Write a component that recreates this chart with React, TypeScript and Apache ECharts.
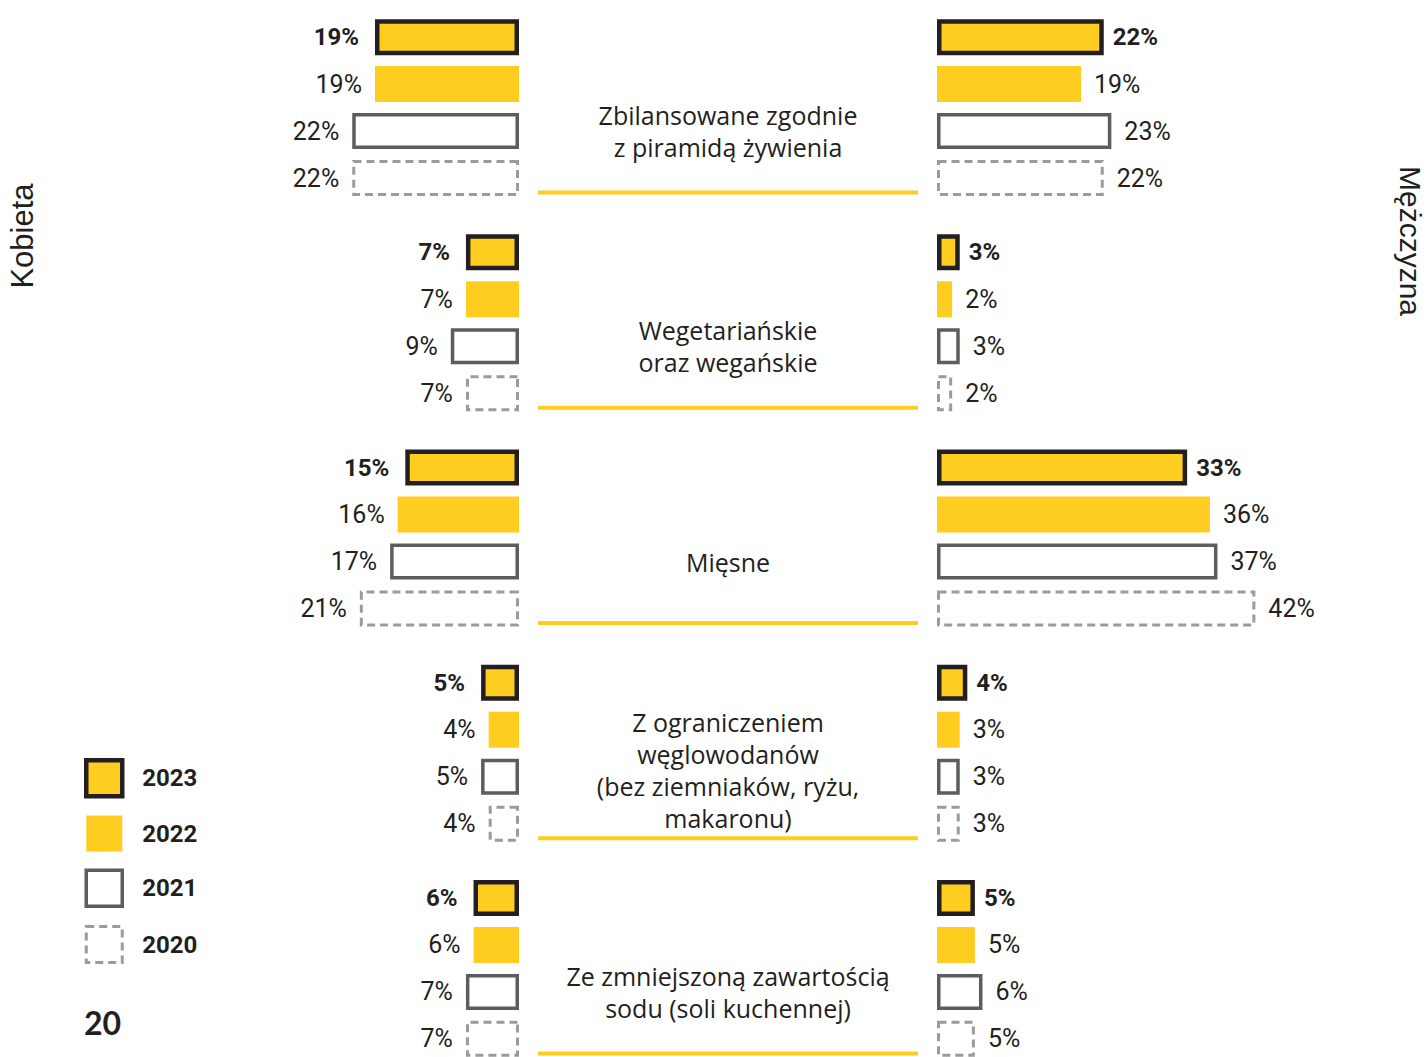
import React, { useEffect, useRef } from "react";
import * as echarts from "echarts";

const categories = [
  "Zbilansowane zgodnie\nz piramidą żywienia",
  "Wegetariańskie\noraz wegańskie",
  "Mięsne",
  "Z ograniczeniem\nwęglowodanów\n(bez ziemniaków, ryżu,\nmakaronu)",
  "Ze zmniejszoną zawartością\nsodu (soli kuchennej)",
];
const years = ["2023", "2022", "2021", "2020"];
const kobieta2023 = [19, 7, 15, 5, 6];
const kobieta2022 = [19, 7, 16, 4, 6];
const kobieta2021 = [22, 9, 17, 5, 7];
const kobieta2020 = [22, 7, 21, 4, 7];
const mezczyzna2023 = [22, 3, 33, 4, 5];
const mezczyzna2022 = [19, 2, 36, 3, 5];
const mezczyzna2021 = [23, 3, 37, 3, 6];
const mezczyzna2020 = [22, 2, 42, 3, 5];
const sideTitles = ["Kobieta", "Mężczyzna"];
const pageNumber = "20";

const YELLOW = "#FFCD1F";
const DARK = "#231F20";
const GRAY = "#5B5E5F";
const LIGHTGRAY = "#9B9B9B";
const FONT = "Roboto";

const yearStyles: any[] = [
  { color: YELLOW, borderColor: DARK, borderWidth: 4.5 },
  { color: YELLOW, borderWidth: 0 },
  { color: "#FFFFFF", borderColor: GRAY, borderWidth: 3.5 },
  { color: "#FFFFFF", borderColor: LIGHTGRAY, borderWidth: 3, borderType: [8, 5] },
];

export default function App() {
  const ref = useRef<HTMLDivElement>(null);
  useEffect(() => {
    document.body.style.margin = "0";
    document.body.style.overflow = "hidden";
    document.documentElement.style.overflow = "hidden";
    const chart = echarts.init(ref.current!, null, { renderer: "svg" });
    const kData = [kobieta2023, kobieta2022, kobieta2021, kobieta2020];
    const mData = [mezczyzna2023, mezczyzna2022, mezczyzna2021, mezczyzna2020];
    const gridTop = 0;
    const gridHeight = 1076;
    const makeSeries = (side: number, data: number[][]) =>
      years.map((y, i) => ({
        type: "bar",
        name: y,
        xAxisIndex: side,
        yAxisIndex: side,
        data: data[i],
        barWidth: 36,
        barGap: "30.5%",
        itemStyle: yearStyles[i],
        label: {
          show: true,
          position: side === 0 ? "left" : "right",
          distance: i === 0 ? (side === 0 ? 16 : 9) : 13,
          formatter: "{c}%",
          fontFamily: FONT,
          fontSize: i === 0 ? 24 : 25,
          fontWeight: i === 0 ? "bold" : "normal",
          color: DARK,
        },
      }));
    const catAxis = (gi: number) => ({
      type: "category",
      gridIndex: gi,
      data: categories,
      inverse: true,
      show: false,
    });
    chart.setOption({
      animation: false,
      grid: [
        { left: 140, width: 379, top: gridTop, height: gridHeight },
        { left: 937, width: 379, top: gridTop, height: gridHeight },
        { left: 538, width: 380, top: gridTop, height: gridHeight },
      ],
      xAxis: [
        { type: "value", gridIndex: 0, min: 0, max: 50, inverse: true, show: false },
        { type: "value", gridIndex: 1, min: 0, max: 50, show: false },
        { type: "value", gridIndex: 2, min: 0, max: 1, show: false },
      ],
      yAxis: [catAxis(0), catAxis(1), catAxis(2)],
      legend: {
        orient: "vertical",
        left: 79,
        top: 753,
        itemWidth: 36,
        itemHeight: 36,
        itemGap: 17,
        selectedMode: false,
        textStyle: {
          fontFamily: FONT,
          fontSize: 24,
          fontWeight: "bold",
          color: DARK,
          padding: [0, 0, 0, 15],
        },
        data: years.map((y, i) => ({
          name: y,
          icon: "rect",
          itemStyle: { ...yearStyles[i], borderWidth: yearStyles[i].borderWidth || 0 },
        })),
      },
      graphic: [
        {
          type: "text",
          x: 22,
          y: 236,
          rotation: Math.PI / 2,
          style: {
            text: sideTitles[0],
            font: "31px 'Liberation Sans'",
            fill: DARK,
            align: "center",
            verticalAlign: "middle",
          },
        },
        {
          type: "text",
          x: 1410,
          y: 241,
          rotation: -Math.PI / 2,
          style: {
            text: sideTitles[1],
            font: "30px 'Liberation Sans'",
            fill: DARK,
            align: "center",
            verticalAlign: "middle",
          },
        },
        {
          type: "text",
          x: 84,
          y: 1022,
          style: {
            text: pageNumber,
            font: "bold 32px Lato",
            fill: DARK,
            align: "left",
            verticalAlign: "middle",
          },
        },
      ],
      series: [
        ...makeSeries(0, kData),
        ...makeSeries(1, mData),
        {
          type: "custom",
          xAxisIndex: 2,
          yAxisIndex: 2,
          data: categories.map((_, i) => [0, i]),
          renderItem: (params: any, api: any) => {
            const idx = api.value(1);
            const p0 = api.coord([0, idx]);
            const p1 = api.coord([1, idx]);
            const band = api.size([0, 1])[1];
            const cx = (p0[0] + p1[0]) / 2;
            const text = categories[params.dataIndex];
            const nLines = text.split("\n").length;
            const lineY = p0[1] + band * 0.395;
            const textY = Math.min(p0[1] + band * 0.11, lineY - nLines * 16 - 4);
            return {
              type: "group",
              children: [
                {
                  type: "text",
                  x: cx,
                  y: textY,
                  style: {
                    text,
                    fontFamily: "Open Sans",
                    fontSize: 25,
                    lineHeight: 32,
                    fill: DARK,
                    align: "center",
                    verticalAlign: "middle",
                  },
                },
                {
                  type: "line",
                  shape: { x1: p0[0], y1: lineY, x2: p1[0], y2: lineY },
                  style: { stroke: YELLOW, lineWidth: 4 },
                },
              ],
            };
          },
        },
      ],
    });
    return () => chart.dispose();
  }, []);
  return <div ref={ref} style={{ width: 1427, height: 1080 }} />;
}
